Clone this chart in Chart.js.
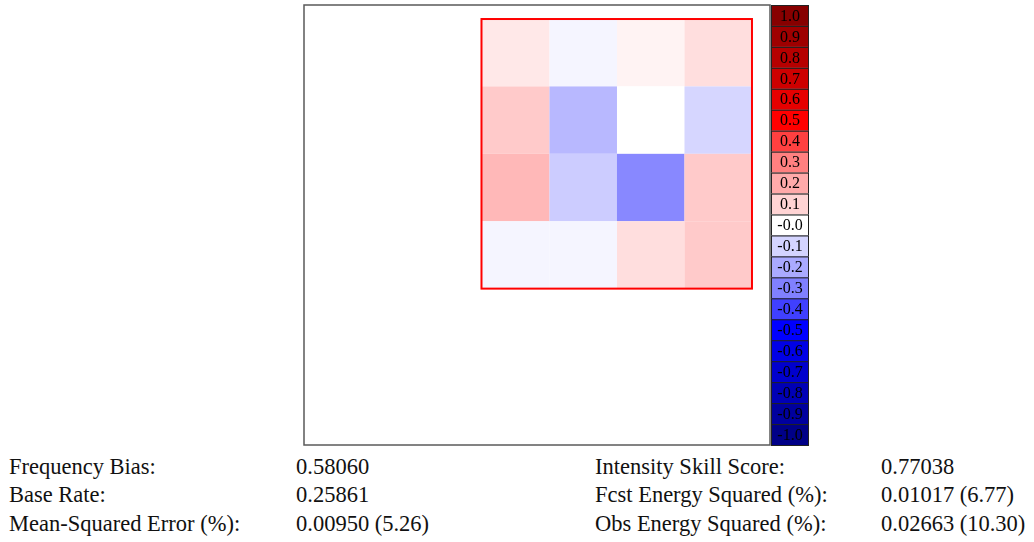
<!DOCTYPE html>
<html>
<head>
<meta charset="utf-8">
<script src="https://cdn.jsdelivr.net/npm/chart.js@4.4.1/dist/chart.umd.min.js"></script>
<style>
  body { margin: 0; background: #fff; width: 1034px; height: 542px; overflow: hidden; position: relative; }
  #wrap { position: absolute; left: 0; top: 0; width: 1034px; height: 450px; }
  .stats { position: absolute; top: 452.7px; font-family: "Liberation Serif", "Times New Roman", serif; font-size: 22.5px; line-height: 28.7px; color: #111; white-space: nowrap; }
</style>
</head>
<body>
<div id="wrap"><canvas id="iss"></canvas></div>
<div class="stats" id="col0" style="left:9px"></div>
<div class="stats" id="col1" style="left:296px"></div>
<div class="stats" id="col2" style="left:595px"></div>
<div class="stats" id="col3" style="left:881px"></div>
<script>
// valores das células (linha de cima para baixo, coluna da esquerda para a direita)
const cellValues = [
  [0.053, -0.023, 0.028, 0.077],
  [0.124, -0.167, 0.0, -0.095],
  [0.167, -0.12, -0.28, 0.124],
  [-0.023, -0.023, 0.077, 0.124]
];

// barra de cores
const colorbarTicks = [1.0, 0.9, 0.8, 0.7, 0.6, 0.5, 0.4, 0.3, 0.2, 0.1, 0.0,
  -0.1, -0.2, -0.3, -0.4, -0.5, -0.6, -0.7, -0.8, -0.9, -1.0];
const colorbarLabels = ['1.0', '0.9', '0.8', '0.7', '0.6', '0.5', '0.4', '0.3', '0.2', '0.1', '-0.0',
  '-0.1', '-0.2', '-0.3', '-0.4', '-0.5', '-0.6', '-0.7', '-0.8', '-0.9', '-1.0'];
const colorbarColors = [
  [135, 0, 0], [158, 0, 0], [182, 0, 0], [205, 0, 0], [230, 0, 0], [255, 0, 0],
  [255, 64, 64], [255, 128, 128], [255, 170, 170], [255, 212, 212], [255, 255, 255],
  [212, 212, 255], [170, 170, 255], [128, 128, 255], [64, 64, 255], [0, 0, 255],
  [0, 0, 230], [0, 0, 205], [0, 0, 182], [0, 0, 158], [0, 0, 135]
];

// estatísticas
const statLabelsLeft = ['Frequency Bias:', 'Base Rate:', 'Mean-Squared Error (%):'];
const statValuesLeft = ['0.58060', '0.25861', '0.00950 (5.26)'];
const statLabelsRight = ['Intensity Skill Score:', 'Fcst Energy Squared (%):', 'Obs Energy Squared (%):'];
const statValuesRight = ['0.77038', '0.01017 (6.77)', '0.02663 (10.30)'];

// interpola a cor a partir da barra de cores
function valueColor(v) {
  for (let i = 0; i < colorbarTicks.length - 1; i++) {
    const a = colorbarTicks[i], b = colorbarTicks[i + 1];
    if (v <= a && v >= b) {
      const t = (a - v) / (a - b);
      const c = colorbarColors[i].map((ch, k) => Math.round(ch + (colorbarColors[i + 1][k] - ch) * t));
      return 'rgb(' + c.join(',') + ')';
    }
  }
  return '#fff';
}

const points = [];
cellValues.forEach((row, r) => row.forEach((v, c) => points.push({ x: c + 0.5, y: r + 0.5, v: v })));

const heatmapPlugin = {
  id: 'heatmap',
  afterDatasetsDraw(chart) {
    const ctx = chart.ctx;
    const xs = chart.scales.x, ys = chart.scales.y, yc = chart.scales.yc;
    const area = chart.chartArea;
    ctx.save();

    // moldura
    ctx.strokeStyle = '#5a5a5a';
    ctx.lineWidth = 1.5;
    ctx.strokeRect(area.left, area.top, area.right - area.left, area.bottom - area.top);

    // células
    chart.data.datasets[0].data.forEach(p => {
      const x0 = xs.getPixelForValue(p.x - 0.5), x1 = xs.getPixelForValue(p.x + 0.5);
      const y0 = ys.getPixelForValue(p.y - 0.5), y1 = ys.getPixelForValue(p.y + 0.5);
      ctx.fillStyle = valueColor(p.v);
      ctx.fillRect(x0, y0, x1 - x0, y1 - y0);
    });

    // contorno vermelho
    const nr = cellValues.length, nc = cellValues[0].length;
    const rx0 = xs.getPixelForValue(0), rx1 = xs.getPixelForValue(nc);
    const ry0 = ys.getPixelForValue(0), ry1 = ys.getPixelForValue(nr);
    ctx.strokeStyle = '#ff0000';
    ctx.lineWidth = 2;
    ctx.strokeRect(rx0 - 0.5, ry0, rx1 - rx0 + 0.5, ry1 - ry0);

    // barra de cores
    const bx = area.right + 1, bw = 38;
    ctx.font = '16px "Liberation Serif", serif';
    ctx.textAlign = 'center';
    ctx.textBaseline = 'middle';
    colorbarTicks.forEach((t, i) => {
      const top = yc.getPixelForValue(t + 0.05), bot = yc.getPixelForValue(t - 0.05);
      ctx.fillStyle = 'rgb(' + colorbarColors[i].join(',') + ')';
      ctx.fillRect(bx, top, bw, bot - top);
      ctx.strokeStyle = '#222';
      ctx.lineWidth = 1;
      ctx.strokeRect(bx + 0.5, top + 0.5, bw - 1, bot - top);
      ctx.fillStyle = '#000';
      ctx.fillText(colorbarLabels[i], bx + bw / 2, (top + bot) / 2 + 1);
    });
    ctx.restore();
  }
};

new Chart(document.getElementById('iss'), {
  type: 'scatter',
  data: { datasets: [{ data: points, pointRadius: 0, pointHoverRadius: 0 }] },
  options: {
    responsive: true,
    maintainAspectRatio: false,
    animation: false,
    events: [],
    layout: { padding: { left: 304, right: 264, top: 5, bottom: 5 } },
    plugins: { legend: { display: false }, tooltip: { enabled: false } },
    scales: {
      x: { type: 'linear', display: false, min: -2.637, max: 4.267 },
      y: { type: 'linear', display: false, reverse: true, min: -0.208, max: 6.32 },
      yc: { type: 'linear', display: false, min: -1.05, max: 1.05 }
    }
  },
  plugins: [heatmapPlugin]
});

// preenche as colunas de texto
function fillCol(id, items) {
  document.getElementById(id).innerHTML = items.map(s => '<div>' + s + '</div>').join('');
}
fillCol('col0', statLabelsLeft);
fillCol('col1', statValuesLeft);
fillCol('col2', statLabelsRight);
fillCol('col3', statValuesRight);
</script>
</body>
</html>
